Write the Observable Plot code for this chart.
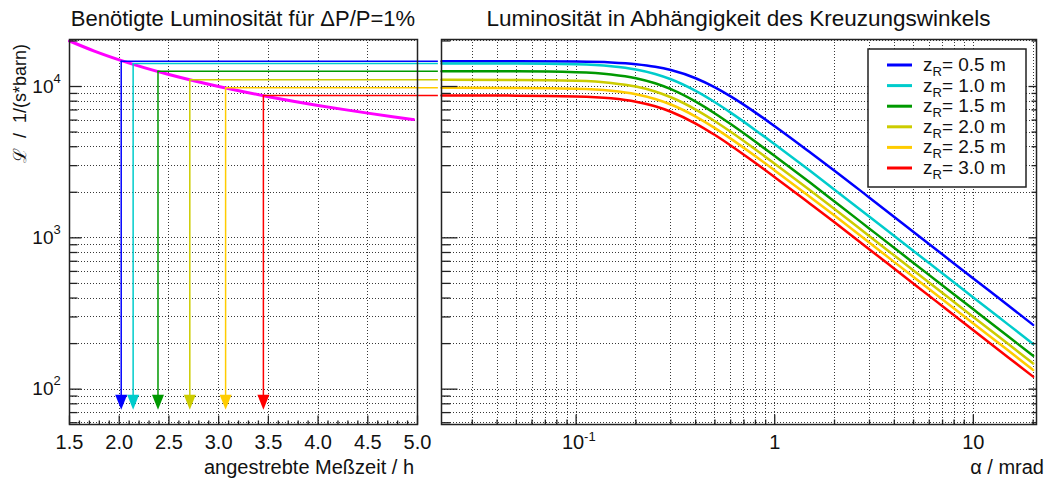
<!DOCTYPE html>
<html><head><meta charset="utf-8">
<script src="https://cdn.jsdelivr.net/npm/d3@7"></script>
<script src="https://cdn.jsdelivr.net/npm/@observablehq/plot@0.6"></script>
<style>
html,body{margin:0;padding:0;background:#fff;}
#wrap{position:relative;width:1049px;height:480px;overflow:hidden;background:#fff;}
#wrap svg{position:absolute;top:0;}
</style></head><body><div id="wrap"></div>
<script>
// ---------------- data ----------------
const zR = [0.5, 1.0, 1.5, 2.0, 2.5, 3.0];                       // m
const plateauLumi = [14710, 14190, 12620, 11070, 9800, 8720];     // 1/(s*barn)
const requiredTime = [2.02, 2.14, 2.39, 2.71, 3.07, 3.45];       // h
const arrowTipLumi = 73;

const timeH = [1.5, 1.75, 2.0, 2.25, 2.5, 2.75, 3.0, 3.25, 3.5, 3.75, 4.0, 4.25, 4.5, 4.75, 4.96];
const requiredLumi = [20000, 17140, 15000, 13330, 12000, 10910, 10000, 9230, 8570, 8000, 7500, 7060, 6670, 6320, 6050];

const alphaMrad = [0.021, 0.05, 0.1, 0.15, 0.2, 0.25, 0.3, 0.4, 0.5, 0.6, 0.8, 1, 1.5, 2, 3, 5, 7, 10, 15, 20];
const lumiZ05 = [14710, 14700, 14620, 14420, 14050, 13520, 12850, 11340, 9865, 8602, 6724, 5463, 3688, 2779, 1842, 1094, 776, 539, 357, 266];
const lumiZ10 = [14190, 14167, 14010, 13618, 12964, 12110, 11166, 9352, 7868, 6720, 5148, 4150, 2784, 2082, 1378, 818, 581, 404, 267, 199];
const lumiZ15 = [12620, 12595, 12428, 12015, 11344, 10503, 9601, 7943, 6635, 5645, 4310, 3472, 2326, 1738, 1150, 683, 484, 337, 223, 166];
const lumiZ20 = [11070, 11049, 10909, 10559, 9990, 9268, 8490, 7042, 5893, 5019, 3834, 3087, 2070, 1550, 1025, 609, 432, 300, 198.5, 148];
const lumiZ25 = [9800, 9783, 9666, 9373, 8893, 8274, 7604, 6332, 5310, 4527, 3463, 2791, 1870, 1403, 928, 551, 391, 272, 180, 134];
const lumiZ30 = [8720, 8705, 8605, 8355, 7940, 7404, 6814, 5693, 4779, 4079, 3122, 2517, 1687, 1267, 838, 498, 353, 245, 162, 121];

const leftXTicks = [1.5, 2.0, 2.5, 3.0, 3.5, 4.0, 4.5, 5.0];
const yDecades = [100, 1000, 10000];
const rightXDecades = [0.1, 1, 10];

const titleLeft = "Benötigte Luminosität für ΔP/P=1%";
const titleRight = "Luminosität in Abhängigkeit des Kreuzungswinkels";
const xLabelLeft = "angestrebte Meßzeit / h";
const xLabelRight = "α / mrad";
const yLabel = "ℒ  /  1/(s*barn)";

// ---------------- styles / layout ----------------
const colors = ["#0000ff", "#00cccc", "#009900", "#cccc00", "#ffcc00", "#ff0000"];
const FONT = '"Liberation Sans", Arial, sans-serif';
const yDomain = [58.4, 20450];
const H = 480, MT = 39, MB = 56;
const hLineEnd = 5.21;
const lumiSeries = [lumiZ05, lumiZ10, lumiZ15, lumiZ20, lumiZ25, lumiZ30];
const series = zR.map((z, i) => ({z, color: colors[i], L0: plateauLumi[i], t: requiredTime[i], values: lumiSeries[i]}));

const yGrid = [];
for (const p of [10, 100, 1000, 10000]) for (let m = 1; m <= 9; m++) { const v = m * p; if (v >= yDomain[0] && v <= yDomain[1]) yGrid.push(v); }
const yMinor = yGrid.filter(v => !yDecades.includes(v));
const xDomainR = [0.021, 20.8];
const xGridR = [];
for (const p of [0.01, 0.1, 1, 10]) for (let m = 1; m <= 9; m++) { const v = +(m * p).toPrecision(6); if (v >= xDomainR[0] && v <= xDomainR[1]) xGridR.push(v); }
const xMinorR = xGridR.filter(v => !rightXDecades.includes(v));
const leftMinorX = d3.range(15, 51).map(v => v / 10).filter(v => Math.round(v * 10) % 5 !== 0);

const hTick = len => ({draw(ctx) { ctx.moveTo(0, 0); ctx.lineTo(len, 0); }});
const vTick = len => ({draw(ctx) { ctx.moveTo(0, 0); ctx.lineTo(0, -len); }});
const arrowHead = {draw(ctx) { ctx.moveTo(0, 0); ctx.lineTo(-6, -15); ctx.lineTo(6, -15); ctx.closePath(); }};

const gridStyle = {stroke: "#222", strokeOpacity: 0.9, strokeWidth: 1, strokeDasharray: "1,2", shapeRendering: "crispEdges"};
const tickStyle = {stroke: "#222", strokeWidth: 1.3, fill: "none"};
const svgStyle = {background: "transparent", overflow: "visible", fontFamily: FONT, fontSize: "20px", color: "#111"};

// ---------------- left panel ----------------
const leftMarks = [
  Plot.ruleY(yGrid, gridStyle),
  Plot.ruleX(leftXTicks.slice(1, -1), gridStyle),
  Plot.line(timeH, {x: d => d, y: requiredLumi, stroke: "#ff00ff", strokeWidth: 3, curve: "monotone-x"})
];
for (const s of series) {
  leftMarks.push(
    Plot.ruleY([s], {y: "L0", x1: "t", x2: () => hLineEnd, stroke: s.color, strokeWidth: 1.5}),
    Plot.ruleX([s], {x: "t", y1: "L0", y2: () => arrowTipLumi * 1.15, stroke: s.color, strokeWidth: 1.5}),
    Plot.dot([s], {x: "t", y: () => arrowTipLumi, symbol: arrowHead, fill: s.color, stroke: "none"})
  );
}
leftMarks.push(
  Plot.frame({stroke: "#222", strokeWidth: 1.5}),
  Plot.dot(yDecades, {y: d => d, frameAnchor: "left", symbol: hTick(12), ...tickStyle}),
  Plot.dot(yMinor, {y: d => d, frameAnchor: "left", symbol: hTick(8), ...tickStyle}),
  Plot.dot(leftXTicks, {x: d => d, frameAnchor: "bottom", symbol: vTick(9), ...tickStyle}),
  Plot.dot(leftMinorX, {x: d => d, frameAnchor: "bottom", symbol: vTick(4), ...tickStyle}),
  Plot.text(leftXTicks, {x: d => d, frameAnchor: "bottom", dy: 24, text: d => d.toFixed(1), fontSize: 20, fill: "#111"}),
  Plot.text(yDecades, {y: d => d, frameAnchor: "left", dx: -16, text: () => "10", textAnchor: "end", fontSize: 19, fill: "#111"}),
  Plot.text(yDecades, {y: d => d, frameAnchor: "left", dx: -16, dy: -8, text: d => String(Math.round(Math.log10(d))), textAnchor: "start", fontSize: 13, fill: "#111"})
);

const left = Plot.plot({
  width: 440, height: H, marginLeft: 69, marginRight: 23, marginTop: MT, marginBottom: MB,
  x: {domain: [1.5, 5.0], axis: null},
  y: {type: "log", domain: yDomain, axis: null},
  style: svgStyle,
  marks: leftMarks
});

// ---------------- right panel ----------------
const rightMarks = [
  Plot.ruleY(yGrid, gridStyle),
  Plot.ruleX(xGridR, gridStyle)
];
for (const s of series) {
  rightMarks.push(Plot.line(alphaMrad, {x: d => d, y: s.values, stroke: s.color, strokeWidth: 2.5, curve: "monotone-x"}));
}
rightMarks.push(
  Plot.frame({stroke: "#222", strokeWidth: 1.5}),
  Plot.dot(yDecades, {y: d => d, frameAnchor: "left", symbol: hTick(16), ...tickStyle}),
  Plot.dot(yMinor, {y: d => d, frameAnchor: "left", symbol: hTick(9), ...tickStyle}),
  Plot.dot(yDecades, {y: d => d, frameAnchor: "right", symbol: hTick(-8), ...tickStyle}),
  Plot.dot(yMinor, {y: d => d, frameAnchor: "right", symbol: hTick(-5), ...tickStyle}),
  Plot.dot(rightXDecades, {x: d => d, frameAnchor: "bottom", symbol: vTick(10), ...tickStyle}),
  Plot.dot(xMinorR, {x: d => d, frameAnchor: "bottom", symbol: vTick(5), ...tickStyle}),
  Plot.text(rightXDecades.filter(d => d >= 1), {x: d => d, frameAnchor: "bottom", dy: 24, text: d => String(d), fontSize: 20, fill: "#111"}),
  Plot.text(rightXDecades.filter(d => d < 1), {x: d => d, frameAnchor: "bottom", dx: -3, dy: 24, text: () => "10", fontSize: 20, fill: "#111"}),
  Plot.text(rightXDecades.filter(d => d < 1), {x: d => d, frameAnchor: "bottom", dx: 8, dy: 16, text: d => String(Math.round(Math.log10(d))), textAnchor: "start", fontSize: 13, fill: "#111"})
);

const right = Plot.plot({
  width: 619, height: H, marginLeft: 11, marginRight: 13, marginTop: MT, marginBottom: MB,
  x: {type: "log", domain: xDomainR, axis: null},
  y: {type: "log", domain: yDomain, axis: null},
  style: svgStyle,
  marks: rightMarks
});

const wrap = document.getElementById("wrap");
left.style.left = "0px";
right.style.left = "430px";
wrap.appendChild(left);
wrap.appendChild(right);

// ---------------- titles, labels, legend ----------------
const L = d3.select(left), R = d3.select(right);
function txt(sel, x, y, s, size, anchor) {
  return sel.append("text").attr("x", x).attr("y", y).attr("font-family", FONT).attr("font-size", size)
    .attr("text-anchor", anchor).attr("fill", "#111").text(s);
}
txt(L, 243, 26, titleLeft, 22, "middle");
txt(R, 308.5, 26, titleRight, 22.5, "middle");
txt(L, 414, 474, xLabelLeft, 20, "end");
txt(R, 614, 474, xLabelRight, 20, "end");
L.append("text").attr("transform", "translate(26,163) rotate(-90)").attr("font-family", FONT).attr("font-size", 18)
  .attr("text-anchor", "start").attr("fill", "#111").style("white-space", "pre").text(yLabel);

const lg = R.append("g");
lg.append("rect").attr("x", 438).attr("y", 49).attr("width", 158).attr("height", 138)
  .attr("fill", "#fff").attr("stroke", "#222").attr("stroke-width", 1.5);
series.forEach((s, i) => {
  const cy = 65 + i * 20.6;
  lg.append("line").attr("x1", 457).attr("x2", 482).attr("y1", cy).attr("y2", cy)
    .attr("stroke", s.color).attr("stroke-width", 3);
  const t = lg.append("text").attr("x", 493).attr("y", cy + 6).attr("font-family", FONT).attr("font-size", 19)
    .attr("text-anchor", "start").attr("fill", "#111");
  t.append("tspan").text("z");
  t.append("tspan").attr("font-size", 13).attr("dy", 5).text("R");
  t.append("tspan").attr("dy", -5).text("= " + s.z.toFixed(1) + " m");
});
</script>
</body></html>
